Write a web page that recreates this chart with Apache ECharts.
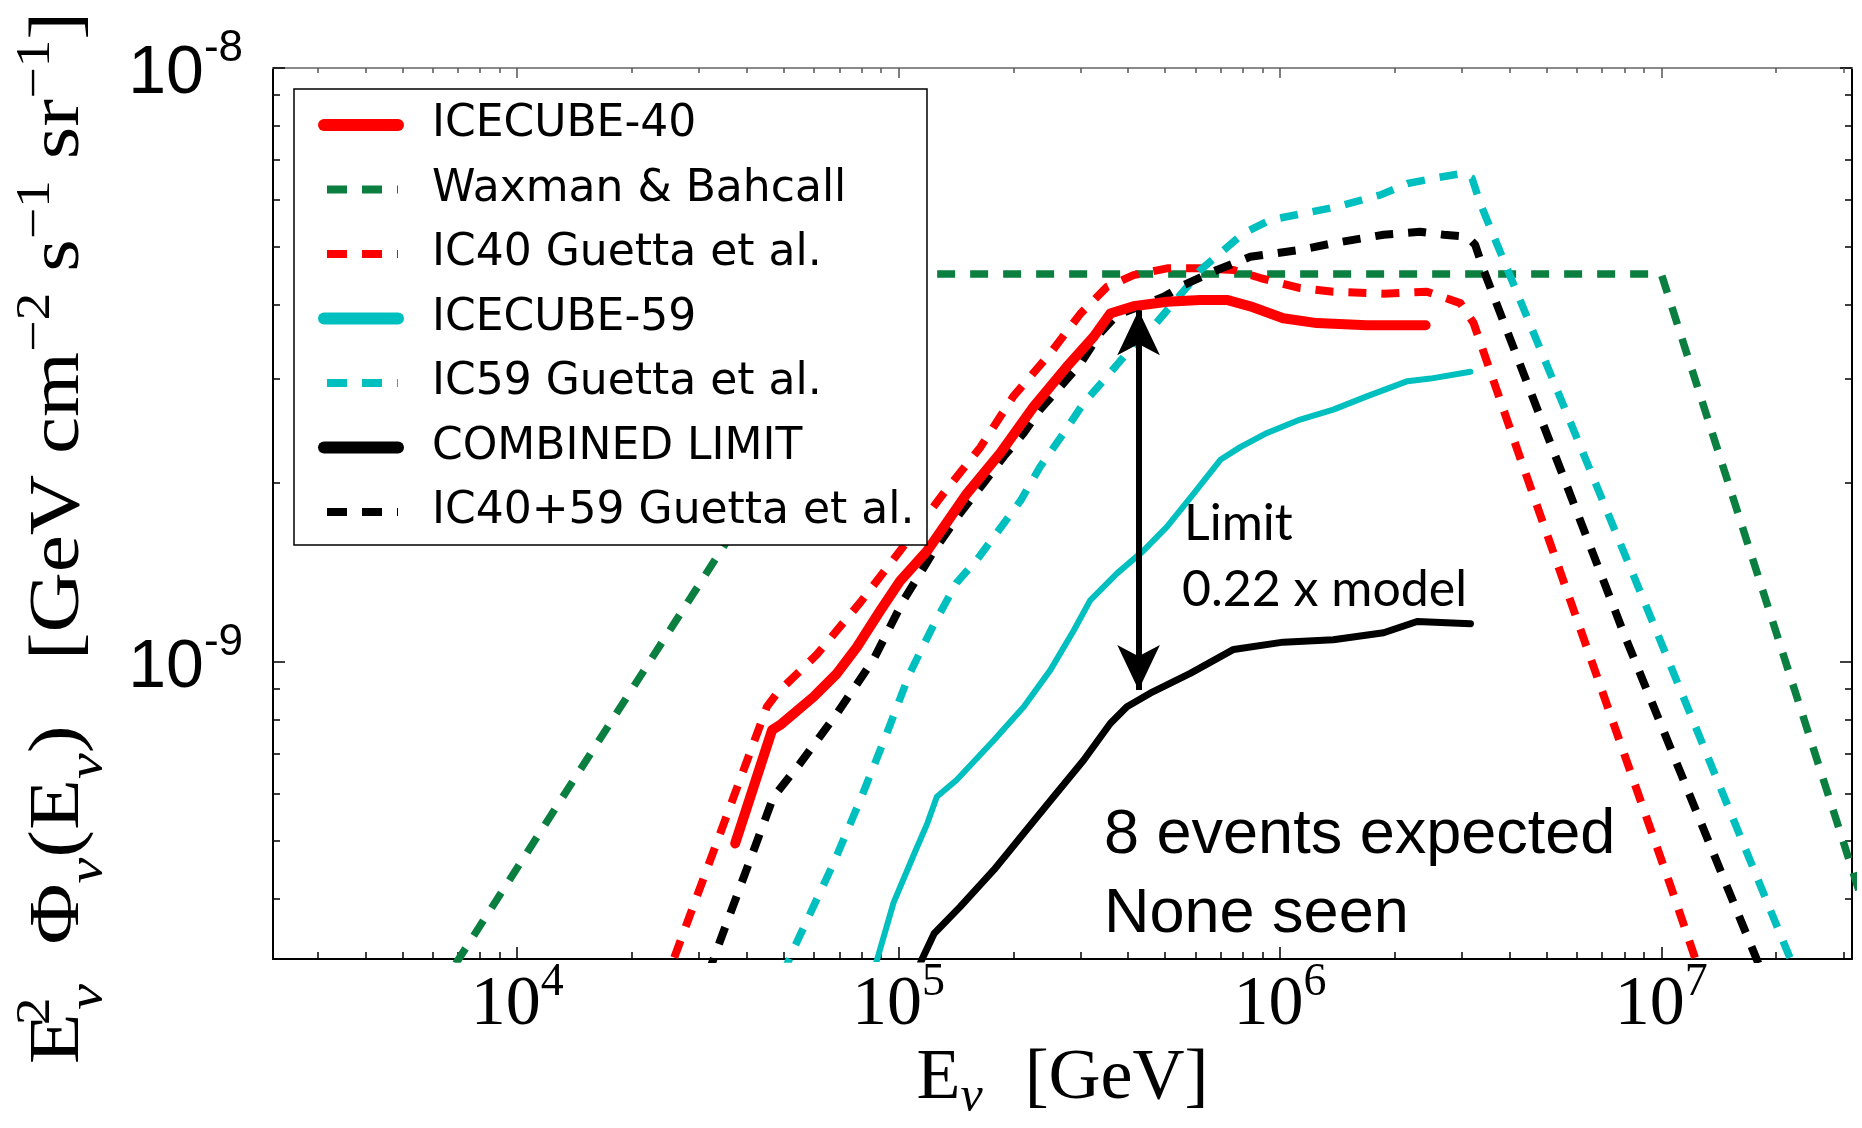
<!DOCTYPE html>
<html>
<head>
<meta charset="utf-8">
<script src="https://cdn.jsdelivr.net/npm/echarts@6/dist/echarts.min.js"></script>
<style>
  html, body { margin: 0; padding: 0; background: #fff; }
  #chart { width: 1862px; height: 1128px; }
</style>
</head>
<body>
<div id="chart"></div>
<script>
// Axis ranges (GeV on x, GeV cm^-2 s^-1 sr^-1 on y)
const X_MIN = 2290, X_MAX = 3.1623e7;
const Y_MIN = 3.1623e-10, Y_MAX = 1e-8;

// Tick positions
const X_MAJOR = [1e4, 1e5, 1e6, 1e7];
const X_MINOR = [3e3, 4e3, 5e3, 6e3, 7e3, 8e3, 9e3,
                 2e4, 3e4, 4e4, 5e4, 6e4, 7e4, 8e4, 9e4,
                 2e5, 3e5, 4e5, 5e5, 6e5, 7e5, 8e5, 9e5,
                 2e6, 3e6, 4e6, 5e6, 6e6, 7e6, 8e6, 9e6,
                 2e7, 3e7];
const Y_MAJOR = [1e-9, 1e-8];
const Y_MINOR = [4e-10, 5e-10, 6e-10, 7e-10, 8e-10, 9e-10,
                 2e-9, 3e-9, 4e-9, 5e-9, 6e-9, 7e-9, 8e-9, 9e-9];

// ICECUBE-40 upper limit
const IC40_E = [3.73e4, 4.66e4, 4.89e4, 5.99e4, 6.90e4, 7.78e4, 8.95e4, 1.01e5, 1.19e5, 1.51e5,
                1.85e5, 2.26e5, 2.76e5, 3.25e5, 3.59e5, 4.13e5, 5.06e5, 6.18e5, 7.26e5, 8.36e5,
                1.02e6, 1.25e6, 1.69e6, 2.41e6];
const IC40_F = [4.95e-10, 7.68e-10, 7.83e-10, 8.74e-10, 9.57e-10, 1.06e-9, 1.22e-9, 1.37e-9, 1.54e-9, 1.92e-9,
                2.25e-9, 2.69e-9, 3.14e-9, 3.53e-9, 3.86e-9, 3.97e-9, 4.04e-9, 4.07e-9, 4.07e-9, 3.97e-9,
                3.79e-9, 3.72e-9, 3.69e-9, 3.69e-9];

// Waxman & Bahcall bound
const WB_E = [5.0e3, 1.0e5, 1.0e7, 4.0e7];
const WB_F = [2.25e-10, 4.5e-9, 4.5e-9, 2.8e-10];

// IC40 Guetta et al. prediction
const IC40G_E = [2.41e4, 4.52e4, 4.80e4, 6.11e4, 7.94e4, 1.01e5, 1.31e5, 1.64e5, 2.00e5, 2.50e5,
                 3.00e5, 3.52e5, 4.13e5, 5.06e5, 6.18e5, 7.56e5, 8.89e5, 1.13e6, 1.38e6, 1.87e6,
                 2.43e6, 2.97e6, 3.22e6, 4.19e6, 1.06e7, 1.27e7];
const IC40G_F = [2.82e-10, 8.41e-10, 8.86e-10, 1.03e-9, 1.26e-9, 1.54e-9, 1.92e-9, 2.30e-9, 2.80e-9, 3.31e-9,
                 3.86e-9, 4.28e-9, 4.48e-9, 4.60e-9, 4.60e-9, 4.57e-9, 4.43e-9, 4.26e-9, 4.20e-9, 4.17e-9,
                 4.20e-9, 4.02e-9, 3.72e-9, 2.28e-9, 4.18e-10, 2.97e-10];

// ICECUBE-59 upper limit
const IC59_E = [8.55e4, 9.70e4, 1.10e5, 1.19e5, 1.26e5, 1.42e5, 1.78e5, 2.13e5, 2.50e5, 2.88e5,
                3.18e5, 3.74e5, 4.39e5, 5.06e5, 5.94e5, 6.98e5, 7.87e5, 9.25e5, 1.13e6, 1.38e6,
                1.69e6, 2.16e6, 2.48e6, 3.16e6];
const IC59_F = [2.97e-10, 3.93e-10, 4.76e-10, 5.35e-10, 5.93e-10, 6.33e-10, 7.39e-10, 8.41e-10, 9.69e-10, 1.13e-9,
                1.27e-9, 1.41e-9, 1.54e-9, 1.69e-9, 1.92e-9, 2.19e-9, 2.30e-9, 2.43e-9, 2.56e-9, 2.66e-9,
                2.80e-9, 2.97e-9, 3.00e-9, 3.08e-9];

// IC59 Guetta et al. prediction
const IC59G_E = [4.96e4, 5.30e4, 6.75e4, 7.94e4, 9.32e4, 1.07e5, 1.24e5, 1.42e5, 1.61e5, 1.81e5,
                 2.09e5, 2.35e5, 2.71e5, 3.06e5, 3.45e5, 3.97e5, 4.57e5, 5.06e5, 5.71e5, 6.18e5,
                 6.98e5, 8.03e5, 9.44e5, 1.15e6, 1.41e6, 1.83e6, 2.16e6, 2.53e6, 3.03e6, 3.19e6,
                 3.35e6, 9.75e6, 2.07e7, 2.27e7];
const IC59G_F = [2.97e-10, 3.28e-10, 4.58e-10, 5.86e-10, 7.59e-10, 9.57e-10, 1.16e-9, 1.36e-9, 1.49e-9, 1.65e-9,
                 1.87e-9, 2.13e-9, 2.43e-9, 2.73e-9, 2.98e-9, 3.31e-9, 3.62e-9, 3.91e-9, 4.28e-9, 4.57e-9,
                 4.88e-9, 5.27e-9, 5.55e-9, 5.69e-9, 5.84e-9, 6.11e-9, 6.39e-9, 6.52e-9, 6.65e-9, 6.52e-9,
                 5.92e-9, 1.12e-9, 3.43e-10, 2.97e-10];

// Combined IC40+IC59 limit
const CMB_E = [1.11e5, 1.15e5, 1.24e5, 1.45e5, 1.78e5, 2.13e5, 2.55e5, 3.06e5, 3.59e5, 3.97e5,
               4.57e5, 5.82e5, 7.56e5, 1.02e6, 1.38e6, 1.87e6, 2.29e6, 3.16e6];
const CMB_F = [2.97e-10, 3.15e-10, 3.49e-10, 3.87e-10, 4.47e-10, 5.15e-10, 5.93e-10, 6.84e-10, 7.88e-10, 8.41e-10,
               8.86e-10, 9.57e-10, 1.05e-9, 1.08e-9, 1.09e-9, 1.12e-9, 1.17e-9, 1.16e-9];

// IC40+59 Guetta et al. prediction
const IC4059G_E = [3.16e4, 3.34e4, 4.70e4, 5.52e4, 6.90e4, 8.60e4, 1.03e5, 1.24e5, 1.45e5, 1.67e5,
                   1.89e5, 2.13e5, 2.35e5, 2.66e5, 3.00e5, 3.38e5, 3.74e5, 4.30e5, 4.96e5, 5.59e5,
                   6.84e5, 8.36e5, 1.13e6, 1.38e6, 1.87e6, 2.33e6, 2.69e6, 3.10e6, 3.25e6, 3.42e6,
                   8.05e6, 1.71e7, 1.85e7];
const IC4059G_F = [2.97e-10, 3.28e-10, 5.93e-10, 6.75e-10, 8.20e-10, 1.01e-9, 1.27e-9, 1.54e-9, 1.78e-9, 2.00e-9,
                   2.22e-9, 2.43e-9, 2.66e-9, 2.91e-9, 3.18e-9, 3.58e-9, 3.84e-9, 3.97e-9, 4.12e-9, 4.31e-9,
                   4.57e-9, 4.81e-9, 4.94e-9, 5.07e-9, 5.24e-9, 5.30e-9, 5.24e-9, 5.20e-9, 5.04e-9, 4.57e-9,
                   1.10e-9, 3.36e-10, 2.97e-10];

// Double arrow between the model and the combined limit (tip positions)
const ARROW_E = 4.26e5;
const ARROW_TOP = 3.91e-9;
const ARROW_BOTTOM = 8.97e-10;

const LEGEND_NAMES = ['ICECUBE-40', 'Waxman & Bahcall', 'IC40 Guetta et al.', 'ICECUBE-59',
                      'IC59 Guetta et al.', 'COMBINED LIMIT', 'IC40+59 Guetta et al.'];

const RED = '#ff0000', GREEN = '#0a7f3f', CYAN = '#00bfbf', BLACK = '#000000';
const DASH = [18, 15];

const LOG = Math.log10;
const pairs = (E, F) => E.map((e, i) => [e, F[i]]);

function lineSeries(name, E, F, color, width, dashed, z) {
  return {
    name, type: 'line', data: pairs(E, F), symbol: 'none', showSymbol: false,
    clip: true, silent: true, animation: false, z,
    lineStyle: { color, width, type: dashed ? DASH : 'solid', cap: dashed ? 'butt' : 'round', join: 'round' },
    itemStyle: { color },
    emphasis: { disabled: true }
  };
}

// Companion linear axes (in decades) that carry the tick rows of the log axes
function tickAxis(position, lo, hi, values, len, color, label) {
  return {
    type: 'value', position, min: LOG(lo), max: LOG(hi),
    axisLine: { show: false, onZero: false },
    splitLine: { show: false },
    axisTick: { show: true, inside: true, length: len, customValues: values.map(LOG),
                lineStyle: { color, width: 1.5 } },
    axisLabel: label ? Object.assign({ customValues: values.map(LOG) }, label) : { show: false }
  };
}

const xLabel = {
  show: true, margin: 12,
  formatter: v => '{b|10}{s|' + Math.round(v) + '}',
  rich: {
    b: { fontFamily: 'Liberation Serif', fontSize: 70, lineHeight: 70, color: '#000', verticalAlign: 'middle' },
    s: { fontFamily: 'Liberation Serif', fontSize: 46, lineHeight: 46, padding: [0, 0, 46, 0], color: '#000', verticalAlign: 'middle' }
  }
};
const yLabel = {
  show: true, margin: 30,
  formatter: v => '{b|10}{s|' + Math.round(v) + '}',
  rich: {
    b: { fontFamily: 'Liberation Sans', fontSize: 68, lineHeight: 68, padding: [13, 0, 0, 0], color: '#000', verticalAlign: 'middle' },
    s: { fontFamily: 'Liberation Sans', fontSize: 44, lineHeight: 44, padding: [0, 0, 39, 0], color: '#000', verticalAlign: 'middle' }
  }
};

const serif = 'Liberation Serif';

// Vertical axis title, written as rich text and turned to read upwards
const Y_TITLE = '{E|E}{s2|2}{nu|ν}{g1| }{t|Φ}{nu|ν}{t|(E}{nu|ν}{t|)}{g2| }{t|[GeV cm}{sup|−2}{t| s}{sup|−1}{t| sr}{sup|−1}{t|]}';
const Y_TITLE_RICH = {
  E: { fontFamily: serif, fontSize: 72, lineHeight: 72, fill: '#000', verticalAlign: 'middle' },
  t: { fontFamily: serif, fontSize: 72, lineHeight: 72, fill: '#000', verticalAlign: 'middle' },
  s2: { fontFamily: serif, fontSize: 48, lineHeight: 48, padding: [0, 0, 46, 0], width: 3, fill: '#000', verticalAlign: 'middle' },
  sup: { fontFamily: serif, fontSize: 48, lineHeight: 48, padding: [0, 0, 46, 0], fill: '#000', verticalAlign: 'middle' },
  nu: { fontFamily: serif, fontStyle: 'italic', fontSize: 50, lineHeight: 50, padding: [59, 0, 0, 0], fill: '#000', verticalAlign: 'middle' },
  g1: { fontFamily: serif, fontSize: 72, width: 34 },
  g2: { fontFamily: serif, fontSize: 72, width: 56 }
};

const option = {
  backgroundColor: '#fff',
  animation: false,
  grid: { left: 273, top: 68, right: 10, bottom: 169, show: false, containLabel: false, outerBoundsMode: 'none' },
  xAxis: [
    {
      type: 'log', position: 'bottom', min: X_MIN, max: X_MAX,
      axisLine: { show: true, onZero: false, lineStyle: { color: '#000', width: 2 } },
      axisTick: { show: false }, axisLabel: { show: false }, splitLine: { show: false },
      name: '{E|E}{nu|ν}{g|}{t|[GeV]}',
      nameLocation: 'middle', nameGap: 84, nameMoveOverlap: false,
      nameTextStyle: {
        color: '#000', fontFamily: serif,
        rich: {
          E: { fontFamily: serif, fontSize: 72, lineHeight: 72, color: '#000', verticalAlign: 'middle' },
          nu: { fontFamily: serif, fontStyle: 'italic', fontSize: 50, lineHeight: 50, padding: [37, 0, 0, 0], color: '#000', verticalAlign: 'middle' },
          g: { width: 42 },
          t: { fontFamily: serif, fontSize: 72, lineHeight: 72, color: '#000', verticalAlign: 'middle' }
        }
      }
    },
    tickAxis('bottom', X_MIN, X_MAX, X_MAJOR, 12, '#000', xLabel),
    tickAxis('bottom', X_MIN, X_MAX, X_MINOR, 7, '#000', null),
    Object.assign(tickAxis('top', X_MIN, X_MAX, X_MAJOR, 10, '#555', null),
                  { axisLine: { show: true, onZero: false, lineStyle: { color: '#8a8a8a', width: 2 } } }),
    tickAxis('top', X_MIN, X_MAX, X_MINOR, 5, '#555', null)
  ],
  yAxis: [
    {
      type: 'log', position: 'left', min: Y_MIN, max: Y_MAX,
      axisLine: { show: true, onZero: false, lineStyle: { color: '#000', width: 2 } },
      axisTick: { show: false }, axisLabel: { show: false }, splitLine: { show: false }
    },
    tickAxis('left', Y_MIN, Y_MAX, Y_MAJOR, 12, '#000', yLabel),
    tickAxis('left', Y_MIN, Y_MAX, Y_MINOR, 7, '#000', null),
    Object.assign(tickAxis('right', Y_MIN, Y_MAX, Y_MAJOR, 12, '#000', null),
                  { axisLine: { show: true, onZero: false, lineStyle: { color: '#000', width: 2 } } }),
    tickAxis('right', Y_MIN, Y_MAX, Y_MINOR, 7, '#000', null)
  ],
  legend: {
    orient: 'vertical', left: 318, top: 100, padding: 0,
    itemWidth: 74, itemHeight: 14, itemGap: 14.5,
    selectedMode: false, z: 10,
    itemStyle: { opacity: 0 },
    textStyle: { fontFamily: 'DejaVu Sans', fontSize: 44, lineHeight: 50, color: '#000', padding: [0, 0, 0, 29] },
    data: LEGEND_NAMES.map(n => ({
      name: n,
      lineStyle: /Guetta|Waxman/.test(n) ? { width: 8, type: [20, 15], dashOffset: -3 } : { width: 12 }
    }))
  },
  graphic: [
    { type: 'rect', silent: true, z: 5,
      shape: { x: 294, y: 89, width: 633, height: 456 },
      style: { fill: '#fff', stroke: '#000', lineWidth: 1.5 } },
    { type: 'text', silent: true, z: 20, x: 59, y: 538, rotation: Math.PI / 2, scaleX: 1.16,
      style: { text: Y_TITLE, rich: Y_TITLE_RICH, fill: '#000', align: 'center', verticalAlign: 'middle',
               fontFamily: serif, fontSize: 72 } },
    { type: 'text', silent: true, z: 20, x: 1184, y: 524,
      style: { text: 'Limit', font: '50px Lato', fill: '#000', verticalAlign: 'middle' } },
    { type: 'text', silent: true, z: 20, x: 1182, y: 590,
      style: { text: '0.22 x model', font: '50px Lato', fill: '#000', verticalAlign: 'middle' } },
    { type: 'text', silent: true, z: 20, x: 1104, y: 836,
      style: { text: '8 events expected', font: '63px "Liberation Sans"', fill: '#000', verticalAlign: 'middle' } },
    { type: 'text', silent: true, z: 20, x: 1104, y: 915,
      style: { text: 'None seen', font: '63px "Liberation Sans"', fill: '#000', verticalAlign: 'middle' } }
  ],
  series: [
    lineSeries('ICECUBE-40', IC40_E, IC40_F, RED, 10, false, 4),
    lineSeries('Waxman & Bahcall', WB_E, WB_F, GREEN, 7.5, true, 2),
    lineSeries('IC40 Guetta et al.', IC40G_E, IC40G_F, RED, 8, true, 3),
    lineSeries('ICECUBE-59', IC59_E, IC59_F, CYAN, 6, false, 4),
    lineSeries('IC59 Guetta et al.', IC59G_E, IC59G_F, CYAN, 7.5, true, 3),
    Object.assign(lineSeries('COMBINED LIMIT', CMB_E, CMB_F, BLACK, 7, false, 4), {
      markLine: {
        silent: true, animation: false,
        symbol: ['arrow', 'arrow'], symbolSize: [32, 45],
        lineStyle: { color: BLACK, width: 6, type: 'solid' },
        label: { show: false },
        emphasis: { disabled: true },
        data: [[{ coord: [ARROW_E, ARROW_TOP] }, { coord: [ARROW_E, ARROW_BOTTOM] }]]
      }
    }),
    lineSeries('IC40+59 Guetta et al.', IC4059G_E, IC4059G_F, BLACK, 8, true, 3)
  ]
};

const chart = echarts.init(document.getElementById('chart'), null, { renderer: 'canvas' });
chart.setOption(option);
</script>
</body>
</html>
